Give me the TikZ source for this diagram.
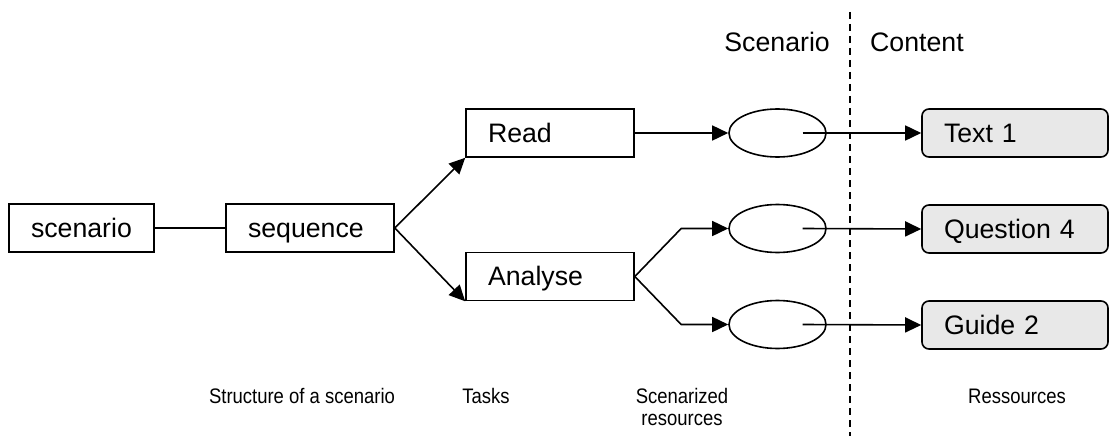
\documentclass[tikz,border=0pt]{standalone}
\usepackage{fontspec}
\setmainfont{Liberation Sans}
\newfontfamily\condfont[FakeStretch=0.88]{Liberation Sans}
\usetikzlibrary{arrows.meta,shapes.geometric,calc}
\tikzset{
  big/.style={font=\fontsize{26.7}{30}\selectfont},
  small/.style={font=\condfont\fontsize{21}{22}\selectfont},
  boxnode/.style={draw, line width=1.6pt, big, minimum height=48pt, inner xsep=22pt,
    text width=#1, align=left, text height=23pt, text depth=5pt, inner ysep=0pt},
  resnode/.style={boxnode=142pt, rounded corners=7pt, fill=black!9},
  slot/.style={draw, ellipse, line width=1.6pt, minimum width=97pt, minimum height=48pt, inner sep=0pt},
  conn/.style={line width=1.6pt},
  arr/.style={conn, -{Triangle[length=16pt,width=15pt]}},
}
\begin{document}
\begin{tikzpicture}[x=1pt,y=-1pt]
\useasboundingbox (0,0) rectangle (1109,436);
% boxes
\node[boxnode=101pt] (scen) at (81.5,228) {scenario};
\node[boxnode=124pt] (seq) at (310,228) {sequence};
\node[boxnode=124pt] (read) at (550,133) {Read};
\node[boxnode=124pt] (ana) at (550,276.5) {Analyse};
% ellipses
\node[slot] (e1) at (777.5,133) {};
\node[slot] (e2) at (777.5,228.5) {};
\node[slot] (e3) at (777.5,324.5) {};
% resources
\node[resnode] (t1) at (1015,133) {Text 1};
\node[resnode] (q4) at (1015,229) {Question 4};
\node[resnode] (g2) at (1015,325) {Guide 2};
% headers
\node[big, anchor=base east, inner sep=0pt] (hs) at (830,52) {Scenario};
\node[big, anchor=base west, inner sep=0pt] (hc) at (870,52) {Content};
% dashed separator
\coordinate (dtop) at (850,12);
\coordinate (dbot) at (850,436);
\draw[line width=1.4pt, dash pattern=on 7pt off 5pt] (dtop) -- (dbot);
% connectors
\draw[conn] (scen.east) -- (seq.west);
\draw[arr] (seq.east) -- (read.south west);
\draw[arr] (seq.east) -- (ana.south west);
\draw[arr] (read.east) -- (e1.west);
\coordinate (k2) at ($(e2.west)+(-47,0)$);
\coordinate (k3) at ($(e3.west)+(-47,0)$);
\draw[arr] (ana.east) -- (k2) -- (e2.west);
\draw[arr] (ana.east) -- (k3) -- (e3.west);
\draw[arr] ([xshift=25pt]e1.center) -- (t1.west);
\draw[arr] ([xshift=25pt]e2.center) -- (q4.west);
\draw[arr] ([xshift=25pt]e3.center) -- (g2.west);
% bottom labels
\node[small, anchor=base, inner sep=0pt] (l1) at (302,403) {Structure of a scenario};
\node[small, anchor=base, inner sep=0pt] (l2) at (486,403) {Tasks};
\node[small, anchor=base, inner sep=0pt, align=center] (l3) at (682,425) {Scenarized\\resources};
\node[small, anchor=base, inner sep=0pt] (l4) at (1017,403) {Ressources};
\end{tikzpicture}
\end{document}
